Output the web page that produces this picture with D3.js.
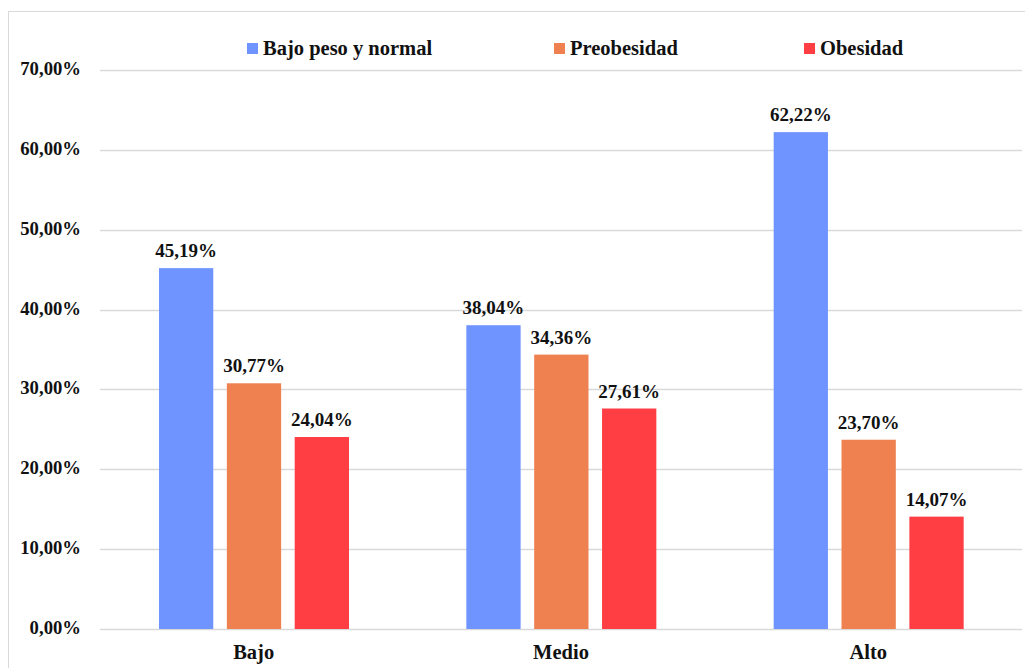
<!DOCTYPE html>
<html><head><meta charset="utf-8">
<script src="https://cdn.jsdelivr.net/npm/d3@7"></script>
<style>body{margin:0;background:#fff}svg{display:block}</style>
</head><body>
<script>
const categories = ["Bajo", "Medio", "Alto"];
const seriesNames = ["Bajo peso y normal", "Preobesidad", "Obesidad"];
const bajoPesoNormal = [45.19, 38.04, 62.22];
const preobesidad = [30.77, 34.36, 23.70];
const obesidad = [24.04, 27.61, 14.07];
const yTicks = [0, 10, 20, 30, 40, 50, 60, 70];
const colors = ["#7094FF", "#EF8150", "#FF3E44"];

const seriesValues = [bajoPesoNormal, preobesidad, obesidad];
const W = 1025, H = 668;
const fmt = v => v.toFixed(2).replace(".", ",") + "%";
const font = "'Liberation Serif','Times New Roman',serif";

const svg = d3.select("body").append("svg").attr("width", W).attr("height", H);
svg.append("rect").attr("x", 8.5).attr("y", 11.5).attr("width", 1030).attr("height", 700)
  .attr("fill", "#fff").attr("stroke", "#d9d9d9");

const x0 = d3.scaleBand().domain(categories).range([100, 1022]).paddingInner(0).paddingOuter(0);
const x1 = d3.scaleBand().domain(seriesNames).range([59, 249]).paddingInner(0.2).paddingOuter(0);
const y = d3.scaleLinear().domain([0, 70]).range([629, 70]);

// gridlines
svg.append("g").selectAll("line").data(yTicks).join("line")
  .attr("x1", 100).attr("x2", 1022)
  .attr("y1", d => Math.round(y(d)) + 0.5).attr("y2", d => Math.round(y(d)) + 0.5)
  .attr("stroke", "#d9d9d9").attr("stroke-width", 1.3);

// y axis labels
svg.append("g").selectAll("text").data(yTicks).join("text")
  .attr("x", 81).attr("y", d => y(d) + 5)
  .attr("text-anchor", "end").attr("font-family", font).attr("font-weight", "bold")
  .attr("font-size", 18.7).attr("fill", "#111").text(d => fmt(d));

// bars
const groups = svg.append("g").selectAll("g").data(categories).join("g")
  .attr("transform", d => `translate(${x0(d)},0)`);
groups.each(function(cat, ci) {
  const g = d3.select(this);
  seriesNames.forEach((s, si) => {
    const v = seriesValues[si][ci];
    g.append("rect").attr("x", x1(s)).attr("width", x1.bandwidth())
      .attr("y", y(v)).attr("height", y(0) - y(v)).attr("fill", colors[si]);
    g.append("text").attr("x", x1(s) + x1.bandwidth() / 2).attr("y", y(v) - 11)
      .attr("text-anchor", "middle").attr("font-family", font).attr("font-weight", "bold")
      .attr("font-size", 19).attr("fill", "#111").text(fmt(v));
  });
});

// category labels
svg.append("g").selectAll("text").data(categories).join("text")
  .attr("x", d => x0(d) + x0.bandwidth() / 2).attr("y", 659)
  .attr("text-anchor", "middle").attr("font-family", font).attr("font-weight", "bold")
  .attr("font-size", 20.5).attr("fill", "#111").text(d => d);

// legend
const legX = [247, 554, 804];
const leg = svg.append("g").selectAll("g").data(seriesNames).join("g")
  .attr("transform", (d, i) => `translate(${legX[i]},43)`);
leg.append("rect").attr("width", 11).attr("height", 11).attr("fill", (d, i) => colors[i]);
leg.append("text").attr("x", 16).attr("y", 12).attr("font-family", font).attr("font-weight", "bold")
  .attr("font-size", 20.5).attr("fill", "#111").text(d => d);
</script>
</body></html>
